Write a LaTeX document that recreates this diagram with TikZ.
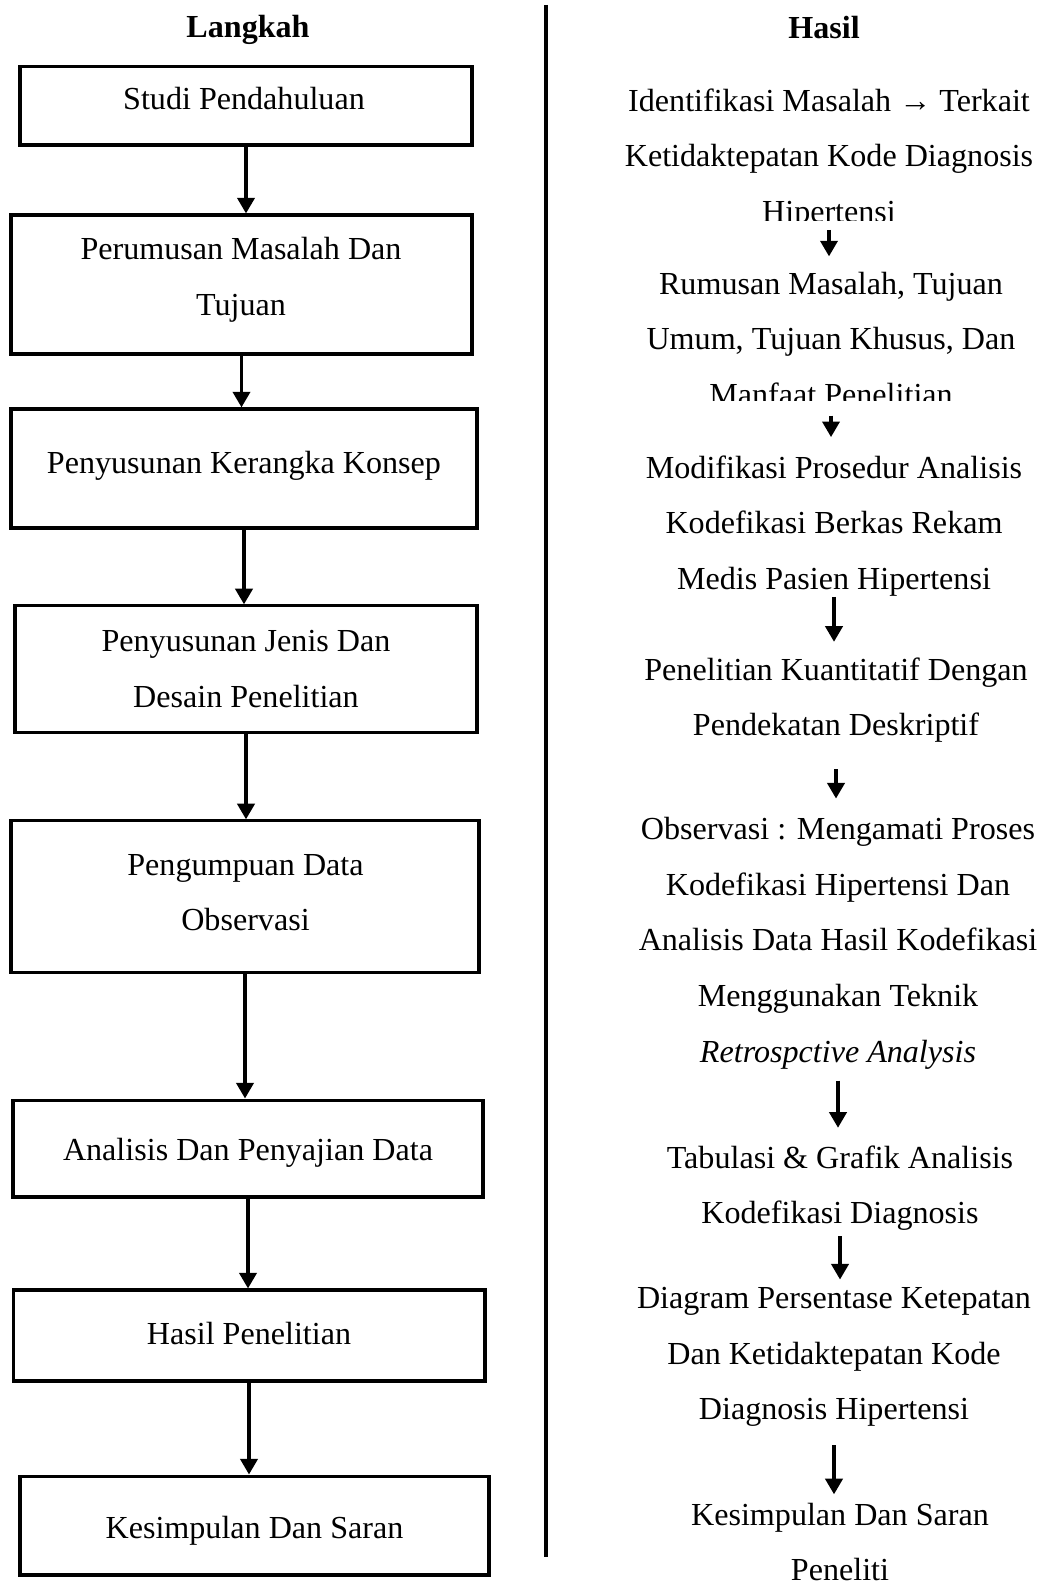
\documentclass[tikz,border=0pt]{standalone}
\usepackage{fontspec}
\setmainfont{Liberation Serif}
\usepackage{tikz}
\usetikzlibrary{arrows.meta}
\tikzstyle{arrow} = [line width=1.3pt,-{Triangle[width=6pt,length=5.5pt]}]
\tikzstyle{stepbox} = [rectangle, draw, line width=1.1pt, inner sep=0pt]
\tikzstyle{txt} = [font=\fontsize{11.3}{19.6}\selectfont, align=center, inner sep=0pt]
\tikzstyle{head} = [font=\fontsize{11.3}{19.6}\selectfont\bfseries, inner sep=0pt]

\begin{document}
\begin{tikzpicture}[x=0.352pt, y=-0.352pt]
    \useasboundingbox (0,0) rectangle (1043,1585);

    % Headers
    \node[head] (langkah) at (248,30) {Langkah};
    \node[head] (hasil) at (824,28) {Hasil};

    % Separator
    \coordinate (septop) at (546,5);
    \coordinate (sepbot) at (546,1557);
    \draw[line width=1.1pt] (septop) -- (sepbot);

    % Langkah boxes
    \node[stepbox, minimum width=159.1pt, minimum height=27.5pt] (b1) at (246,106) {};
    \node[txt] (t1) at (244,99) {Studi Pendahuluan};

    \node[stepbox, minimum width=162.3pt, minimum height=48.9pt] (b2) at (241.5,284.5) {};
    \node[txt] (t2) at (241,280) {Perumusan Masalah Dan\\Tujuan};

    \node[stepbox, minimum width=164.0pt, minimum height=41.9pt] (b3) at (244,468.5) {};
    \node[txt] (t3) at (244,466) {Penyusunan Kerangka Konsep};

    \node[stepbox, minimum width=162.6pt, minimum height=44.4pt] (b4) at (246,669) {};
    \node[txt] (t4) at (246,669) {Penyusunan Jenis Dan\\Desain Penelitian};

    \node[stepbox, minimum width=164.7pt, minimum height=53.2pt] (b5) at (245,896.5) {};
    \node[txt] (t5) at (245.5,892.5) {Pengumpuan Data\\Observasi};

    \node[stepbox, minimum width=165.4pt, minimum height=34.1pt] (b6) at (248,1148.5) {};
    \node[txt] (t6) at (248,1153) {Analisis Dan Penyajian Data};

    \node[stepbox, minimum width=166.1pt, minimum height=32.0pt] (b7) at (249,1335.5) {};
    \node[txt] (t7) at (249,1334) {Hasil Penelitian};

    \node[stepbox, minimum width=165.1pt, minimum height=34.8pt] (b8) at (254.5,1525.5) {};
    \node[txt] (t8) at (254.5,1531) {Kesimpulan Dan Saran};

    % Langkah arrows
    \foreach \a/\b in {b1/b2, b2/b3, b3/b4, b4/b5, b5/b6, b6/b7, b7/b8}
        \draw[arrow] (\a.south) -- (\a.south |- \b.north);

    % Hasil
    \begin{scope}
        \clip (600,0) rectangle (1043,221);
        \node[txt] (h1) at (829,159) {Identifikasi Masalah → Terkait\\Ketidaktepatan Kode Diagnosis\\Hipertensi};
    \end{scope}
    \begin{scope}
        \clip (600,230) rectangle (1043,401);
        \node[txt] (h2) at (831,339) {Rumusan Masalah, Tujuan\\Umum, Tujuan Khusus, Dan\\Manfaat Penelitian};
    \end{scope}
    \node[txt] (h3) at (834,526) {Modifikasi Prosedur Analisis\\Kodefikasi Berkas Rekam\\Medis Pasien Hipertensi};
    \node[txt] (h4) at (836,700) {Penelitian Kuantitatif Dengan\\Pendekatan Deskriptif};
    \node[txt] (h5) at (838,943) {Observasi : Mengamati Proses\\Kodefikasi Hipertensi Dan\\Analisis Data Hasil Kodefikasi\\Menggunakan Teknik\\\textit{Retrospctive Analysis}};
    \node[txt] (h6) at (840,1188) {Tabulasi \& Grafik Analisis\\Kodefikasi Diagnosis};
    \node[txt] (h7) at (834,1357) {Diagram Persentase Ketepatan\\Dan Ketidaktepatan Kode\\Diagnosis Hipertensi};
    \node[txt] (h8) at (840,1542) {Kesimpulan Dan Saran\\Peneliti};

    % Hasil arrows
    \draw[arrow, shorten >=5.3pt] (h1.south) -- (h1.south |- h2.north);
    \draw[arrow, shorten <=3.2pt, shorten >=6.3pt] (h2.south) -- (h2.south |- h3.north);
    \draw[arrow, shorten >=5.3pt] (h3.south) -- (h3.south |- h4.north);
    \draw[arrow, shorten <=9.2pt, shorten >=6.3pt] (h4.south) -- (h4.south |- h5.north);
    \draw[arrow, shorten <=3.9pt, shorten >=6pt] (h5.south) -- (h5.south |- h6.north);
    \draw[arrow, shorten <=1.8pt, shorten >=2.5pt] (h6.south) -- (h6.south |- h7.north);
    \draw[arrow, shorten <=6.3pt, shorten >=2.8pt] (h7.south) -- (h7.south |- h8.north);
\end{tikzpicture}
\end{document}
